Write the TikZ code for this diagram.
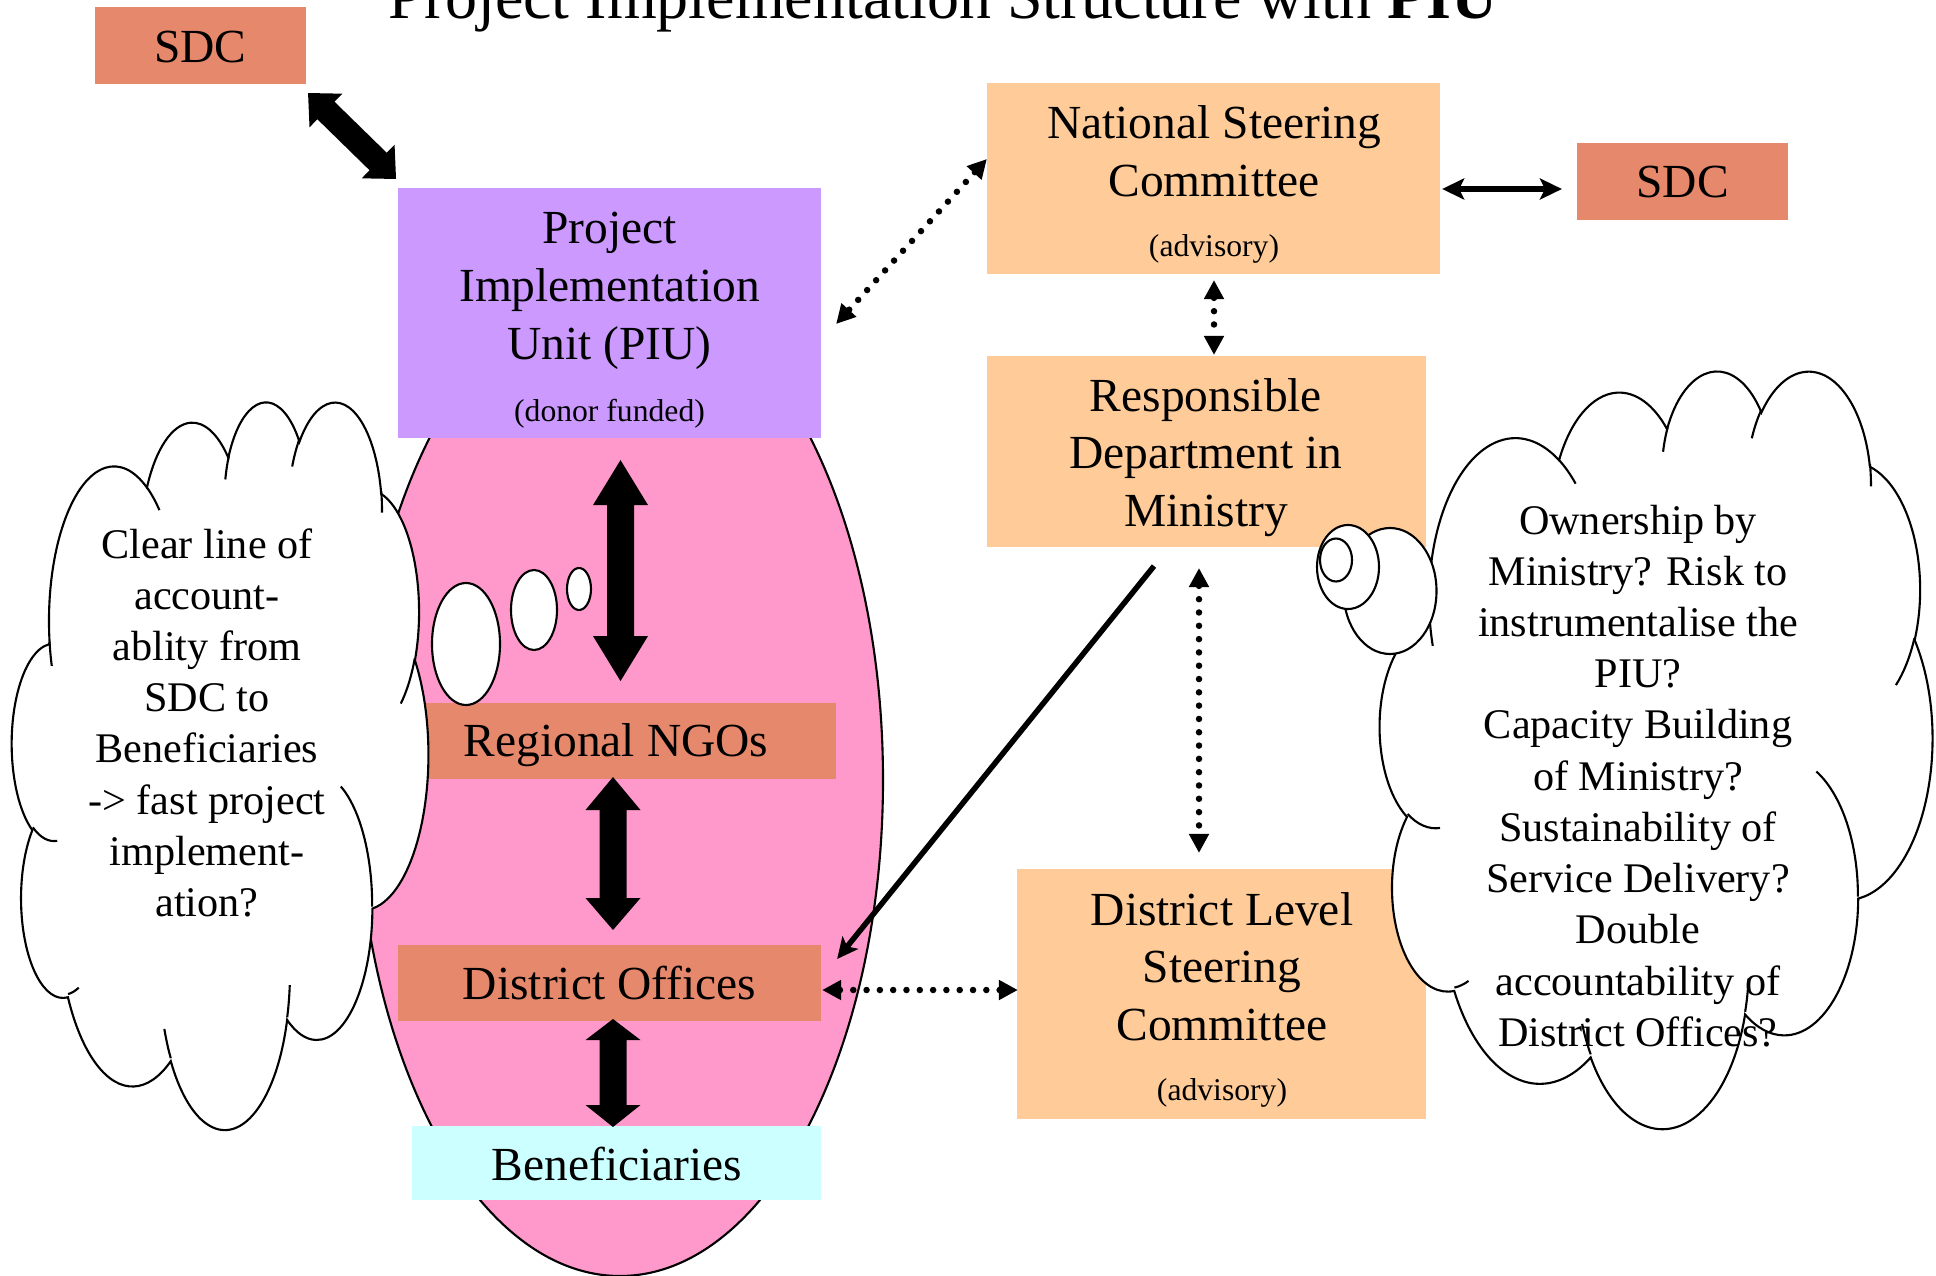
\documentclass[tikz,border=0pt]{standalone}
\usepackage{fontspec}
\setmainfont{Liberation Serif}
\usetikzlibrary{arrows.meta,calc}

\definecolor{piupurple}{HTML}{CC99FF}
\definecolor{ellpink}{HTML}{FF99CC}
\definecolor{peach}{HTML}{FFCC99}
\definecolor{salmon}{HTML}{E6886B}
\definecolor{paleblue}{HTML}{CCFFFF}

\newcommand\stacklines[1]{\begin{tabular}[t]{@{}c@{}}#1\end{tabular}}

% OOXML arcTo (visual angles) -> TikZ arc (parametric angles)
\newcommand\ooprep[5]{%
  \pgfmathsetmacro\tmpoS{atan2((#2)*sin(#4),(#3)*cos(#4))}%
  \pgfmathsetmacro\tmpoE{atan2((#2)*sin((#4)+(#5)),(#3)*cos((#4)+(#5)))}%
  \pgfmathsetmacro\tmpoD{mod(\tmpoE-(\tmpoS)+720,360)}%
  \expandafter\xdef\csname cld#1\endcsname{arc[start angle=\tmpoS, delta angle=\tmpoD, x radius=#2, y radius=#3]}%
}
\ooprep{A}{6.753}{9.190}{-190.487}{123.781}
\ooprep{B}{5.333}{7.267}{-144.102}{89.945}
\ooprep{C}{4.365}{5.945}{-145.808}{99.723}
\ooprep{D}{4.857}{6.595}{-130.986}{117.242}
\ooprep{E}{5.333}{7.273}{-78.709}{109.027}
\ooprep{F}{6.775}{9.220}{-46.267}{130.269}
\ooprep{G}{5.785}{7.867}{0.625}{114.033}
\ooprep{H}{6.752}{9.215}{22.452}{115.173}
\ooprep{I}{7.720}{10.543}{66.243}{75.711}
\ooprep{J}{4.360}{5.918}{-274.942}{146.736}
\ooprep{K}{4.345}{5.945}{-246.829}{152.519}
\ooprep{ia}{4.345}{5.945}{86.742}{26.430}
\ooprep{ib}{4.360}{5.918}{73.611}{11.448}
\ooprep{ic}{6.752}{9.215}{137.624}{14.081}
\ooprep{id}{6.752}{9.215}{6.453}{15.998}
\ooprep{ie}{5.785}{7.867}{-70.292}{70.917}
\ooprep{if}{5.333}{7.273}{30.318}{27.752}
\ooprep{ig}{4.857}{6.595}{-13.744}{14.854}
\ooprep{ih}{4.857}{6.595}{-149.181}{18.196}
\ooprep{ii}{4.365}{5.945}{-163.494}{17.686}
\ooprep{ij}{6.753}{9.190}{-66.707}{12.319}
\ooprep{ik}{6.753}{9.190}{157.654}{11.858}

\newcommand\cloudpaths{%
  \filldraw[cloudline] (3.900,14.370) \cldA \cldB \cldC \cldD \cldE \cldF \cldG \cldH \cldI \cldJ \cldK -- cycle;
  \draw[cloudinner] (4.693,26.177) \cldia (6.928,34.899) \cldib (16.478,39.090) \cldic
    (28.827,34.751) \cldid (34.129,22.954) \cldie (41.798,15.354) \cldif
    (38.324,5.426) \cldig (29.078,3.952) \cldih (22.141,4.720) \cldii
    (14.000,5.192) \cldij (4.127,15.789) \cldik;
}

\newcommand\blockarrow[7]{%
  \fill[shift={(#1)}, rotate=#2] (0,0) -- (#6,#5) -- (#6,#4) -- ({#3-#7},#4) -- ({#3-#7},#5)
    -- (#3,0) -- ({#3-#7},-#5) -- ({#3-#7},-#4) -- (#6,-#4) -- (#6,-#5) -- cycle;
}

\tikzset{
  boxshape/.style={draw=none, inner sep=0pt, outer sep=0pt},
  boxtext/.style={inner sep=0pt, anchor=base, font=\fontsize{13.5}{16.36}\selectfont},
  smalltext/.style={inner sep=0pt, anchor=base, font=\fontsize{9}{11}\selectfont},
  cloudtext/.style={inner sep=0pt, anchor=base, font=\fontsize{12}{14.57}\selectfont},
  titletext/.style={inner sep=0pt, anchor=base, font=\fontsize{18.2}{22}\selectfont},
  cloudline/.style={draw=black, line width=0.6pt, fill=white},
  cloudinner/.style={draw=black, line width=0.6pt},
  bubble/.style={draw=black, line width=0.6pt, fill=white},
  ellipsebody/.style={draw=black, line width=0.6pt, fill=ellpink},
  dotarrow/.style={line width=0.065cm, line cap=round, dash pattern=on 0pt off 0.133cm,
    {Triangle[length=0.19cm,width=0.19cm]}-{Triangle[length=0.19cm,width=0.19cm]}},
  thinarrow/.style={line width=0.055cm,
    {Stealth[length=0.22cm,width=0.21cm,inset=0.05cm]}-{Stealth[length=0.22cm,width=0.21cm,inset=0.05cm]}},
  onearrow/.style={line width=0.055cm, -{Stealth[length=0.21cm,width=0.2cm,inset=0.05cm]}}
}

\begin{document}
\begin{tikzpicture}[x=0.01cm, y=-0.01cm]
\useasboundingbox (0,0) rectangle (1936,1276);
\clip (0,0) rectangle (1936,1276);
\fill[white] (0,0) rectangle (1936,1276);

% pink ellipse
\draw[ellipsebody] (620,780) ellipse [x radius=263, y radius=496];

% boxes
\node[boxshape, fill=piupurple, minimum width=4.23cm, minimum height=2.50cm] (piu) at (609.5,313) {};
\node[boxshape, fill=salmon, minimum width=4.10cm, minimum height=0.76cm] (ngo) at (631,741) {};
\node[boxshape, fill=salmon, minimum width=4.23cm, minimum height=0.76cm] (do) at (609.5,983) {};
\node[boxshape, fill=paleblue, minimum width=4.09cm, minimum height=0.74cm] (ben) at (616.5,1163) {};
\node[boxshape, fill=salmon, minimum width=2.11cm, minimum height=0.77cm] (sdcL) at (200.5,45.5) {};
\node[boxshape, fill=peach, minimum width=4.53cm, minimum height=1.91cm] (nsc) at (1213.5,178.5) {};
\node[boxshape, fill=salmon, minimum width=2.11cm, minimum height=0.77cm] (sdcR) at (1682.5,181.5) {};
\node[boxshape, fill=peach, minimum width=4.39cm, minimum height=1.91cm] (rdm) at (1206.5,451.5) {};
\node[boxshape, fill=peach, minimum width=4.09cm, minimum height=2.50cm] (dlsc) at (1221.5,994) {};

% block arrows
\coordinate (baA) at ($(sdcL.south east)+(2,9)$);
\coordinate (bb1) at ($(piu.south)+(11,22)$);
\coordinate (bb2) at ($(ngo.south)+(-18,-2)$);
\coordinate (bb3) at ($(do.south)+(3.5,-2)$);
\blockarrow{baA}{-44.34}{123}{12.25}{23.5}{25}{25}
\blockarrow{bb1}{-90}{221}{13.5}{27.5}{45}{45}
\blockarrow{bb2}{-90}{153}{13.5}{27.5}{33}{32}
\blockarrow{bb3}{-90}{108}{13.5}{27.5}{21}{22}

% left cloud
\begin{scope}[shift={(12,400)}, x=0.0962963cm, y=-0.1682870cm]
  \cloudpaths
\end{scope}
\draw[bubble] (466,644) ellipse [x radius=34, y radius=61];
\draw[bubble] (534,610) ellipse [x radius=23, y radius=40];
\draw[bubble] (579,589) ellipse [x radius=12, y radius=21];

% right cloud
\begin{scope}[shift={(1380,369)}, x=0.1277778cm, y=-0.1752315cm]
  \cloudpaths
\end{scope}
\draw[bubble] (1390,591) ellipse [x radius=46.5, y radius=63];
\draw[bubble] (1348,567) ellipse [x radius=31, y radius=42];
\draw[bubble] (1336,560) ellipse [x radius=16, y radius=21.5];

% texts
\node[titletext] (title) at (943,19) {Project Implementation Structure with \textbf{PIU}};
\node[boxtext] (sdcLt) at (200.5,63) {SDC};
\node[boxtext] (sdcRt) at (1682.5,198) {SDC};
\node[boxtext] (piut) at (609.5,244) {\stacklines{Project\\Implementation\\Unit (PIU)}};
\node[smalltext] (piusub) at (609.5,421) {(donor funded)};
\node[boxtext] (nsct) at (1214,139) {\stacklines{National Steering\\Committee}};
\node[smalltext] (nscsub) at (1214,257) {(advisory)};
\node[boxtext] (rdmt) at (1206,411) {\stacklines{Responsible\\Department in\\Ministry}};
\node[boxtext] (dlsct) at (1222,925) {\stacklines{District Level\\Steering\\Committee}};
\node[smalltext] (dlscsub) at (1222,1100) {(advisory)};
\node[boxtext] (ngot) at (616,756) {Regional NGOs};
\node[boxtext] (dot) at (609.5,999) {District Offices};
\node[boxtext] (bent) at (617,1180) {Beneficiaries};
\node[cloudtext] (lct) at (207,558) {\stacklines{Clear line of\\account-\\ablity from\\SDC to\\Beneficiaries\\-> fast project\\implement-\\ation?}};
\node[cloudtext] (rct) at (1638,534) {\stacklines{Ownership by\\Ministry? Risk to\\instrumentalise the\\PIU?\\Capacity Building\\of Ministry?\\Sustainability of\\Service Delivery?\\Double\\accountability of\\District Offices?}};

% connectors
\draw[thinarrow] ($(nsc.east)+(2,10.5)$) -- ($(sdcR.west)+(-15,7.5)$);
\draw[onearrow] ($(rdm.south)+(-52.5,19)$) -- ($(do.east)+(16,-24)$);
\draw[dotarrow] ($(nsc.west)+(0,-19.5)$) -- ($(piu.east)+(15,11)$);
\draw[dotarrow] ($(nsc.south)+(0.5,6)$) -- ($(rdm.north)+(7.5,-1)$);
\draw[dotarrow] ($(rdm.south)+(-7.5,21)$) -- ($(dlsc.north)+(-22.5,-16)$);
\draw[dotarrow] ($(do.east)+(1,7)$) -- ($(dlsc.west)+(1,-4)$);
\end{tikzpicture}
\end{document}
